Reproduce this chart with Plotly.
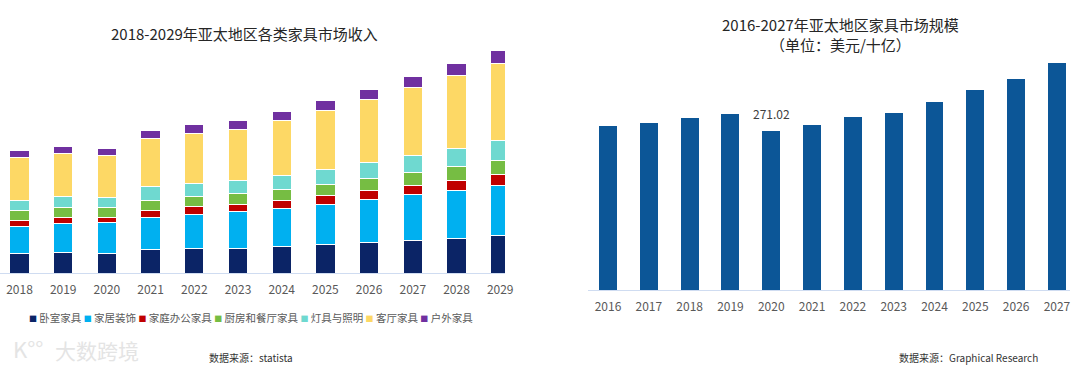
import plotly.graph_objects as go

# ---------------- data ----------------
years_left = ["2018", "2019", "2020", "2021", "2022", "2023",
              "2024", "2025", "2026", "2027", "2028", "2029"]
series_names = ["卧室家具", "家居装饰", "家庭办公家具", "厨房和餐厅家具",
                "灯具与照明", "客厅家具", "户外家具"]
bedroom = [19.7, 20.7, 19.7, 23.7, 24.3, 24.7, 26.3, 28.3, 30.7, 32.7, 35.0, 37.3]
decor = [27.3, 29.0, 30.6, 32.3, 34.7, 36.6, 38.4, 40.7, 43.3, 45.6, 47.7, 50.0]
office = [6.0, 6.0, 5.7, 7.0, 7.3, 7.7, 8.3, 8.7, 8.7, 9.4, 10.3, 11.0]
kitchen = [9.3, 9.6, 9.3, 10.0, 10.0, 10.7, 10.7, 11.3, 11.6, 12.6, 13.3, 14.0]
lighting = [10.7, 11.0, 10.4, 13.3, 13.4, 13.3, 14.3, 15.0, 16.4, 17.4, 18.4, 20.0]
living = [42.3, 43.4, 42.3, 48.4, 50.0, 51.0, 55.0, 58.3, 63.0, 67.6, 72.6, 77.7]
outdoor = [7.0, 6.6, 6.7, 8.3, 9.0, 9.0, 9.0, 10.0, 10.3, 11.0, 12.4, 12.7]
series_values = [bedroom, decor, office, kitchen, lighting, living, outdoor]
series_colors = ["#0b2466", "#00b0f0", "#c00000", "#76bd43",
                 "#6fd9d0", "#fdd865", "#7030a0"]

years_right = ["2016", "2017", "2018", "2019", "2020", "2021",
               "2022", "2023", "2024", "2025", "2026", "2027"]
market_size = [279.5, 284.7, 293.2, 300.5, 271.02, 281.2,
               294.9, 302.2, 321.0, 340.4, 359.1, 387.4]
labelled_year = "2020"
labelled_value = 271.02

# ---------------- figure ----------------
W, H = 1080, 371
fig = go.Figure()

for name, vals, col in zip(series_names, series_values, series_colors):
    fig.add_trace(go.Bar(
        x=years_left, y=vals, name=name, marker_color=col,
        marker_line=dict(color="white", width=1),
        xaxis="x", yaxis="y", showlegend=False,
    ))

fig.add_trace(go.Bar(
    x=years_right, y=market_size, marker_color="#0c5697",
    marker_line=dict(width=0),
    xaxis="x2", yaxis="y2", showlegend=False,
))

axis_font = dict(family="Noto Sans CJK SC, Noto Sans", size=12, color="#595959")
line_col = "#cfdcf1"
tick_style = dict(ticks="outside", ticklen=6, tickcolor="rgba(0,0,0,0)")

fig.update_layout(
    width=W, height=H,
    margin=dict(l=0, r=0, t=0, b=0, autoexpand=False),
    paper_bgcolor="white", plot_bgcolor="white",
    barmode="stack", bargap=0.56,
    font=dict(family="Noto Sans CJK SC, Noto Sans", color="#333333"),
    xaxis=dict(domain=[0, 505 / W], type="category", range=[-0.446, 11.11],
               showgrid=False, showline=True, linecolor=line_col, linewidth=1,
               tickfont=axis_font, fixedrange=True, automargin=False, **tick_style),
    yaxis=dict(domain=[1 - 273 / H, 1 - 45 / H], range=[0, 228],
               showgrid=False, showticklabels=False, zeroline=False,
               showline=False, fixedrange=True, automargin=False),
    xaxis2=dict(domain=[587.6 / W, 1070 / W], type="category", range=[-0.5, 11.32],
                showgrid=False, showline=True, linecolor=line_col, linewidth=1,
                tickfont=axis_font, anchor="y2", fixedrange=True,
                automargin=False, **tick_style),
    yaxis2=dict(domain=[1 - 290 / H, 1 - 55 / H], range=[0, 400.6], anchor="x2",
                showgrid=False, showticklabels=False, zeroline=False,
                showline=False, fixedrange=True, automargin=False),
)


def paper_text(text, px, py, size, color="#333333"):
    return dict(text=text, x=px / W, y=1 - py / H, xref="paper", yref="paper",
                xanchor="center", yanchor="middle", showarrow=False,
                font=dict(size=size, color=color))


annos = []
annos.append(paper_text("2018-2029年亚太地区各类家具市场收入", 244, 33, 15, "#262626"))
annos.append(paper_text("2016-2027年亚太地区家具市场规模<br>（单位：美元/十亿）",
                        840, 34.5, 15, "#262626"))
annos.append(dict(text=f"{labelled_value:.2f}", x=years_right.index(labelled_year),
                  y=labelled_value, xref="x2", yref="y2", xanchor="center",
                  yanchor="bottom", yshift=7, showarrow=False,
                  font=dict(size=12, color="#404040")))
legend_parts = []
for name, col in zip(series_names, series_colors):
    legend_parts.append(f'<span style="color:{col};font-size:8px">■</span> {name}')
annos.append(paper_text(" ".join(legend_parts), 251, 317, 10.5, "#595959"))
annos.append(paper_text("数据来源：statista", 251, 357, 10))
annos.append(paper_text("数据来源：Graphical Research", 968, 357, 10))
annos.append(paper_text("大数跨境", 97, 350, 21, "#e4e4e4"))
annos.append(paper_text("K°°", 28, 348, 22, "#e4e4e4"))
fig.update_layout(annotations=annos)

fig.write_html(
    "out.html",
    config={"displayModeBar": False},
    post_script="document.body.style.margin='0px';document.body.style.overflow='hidden';",
)
